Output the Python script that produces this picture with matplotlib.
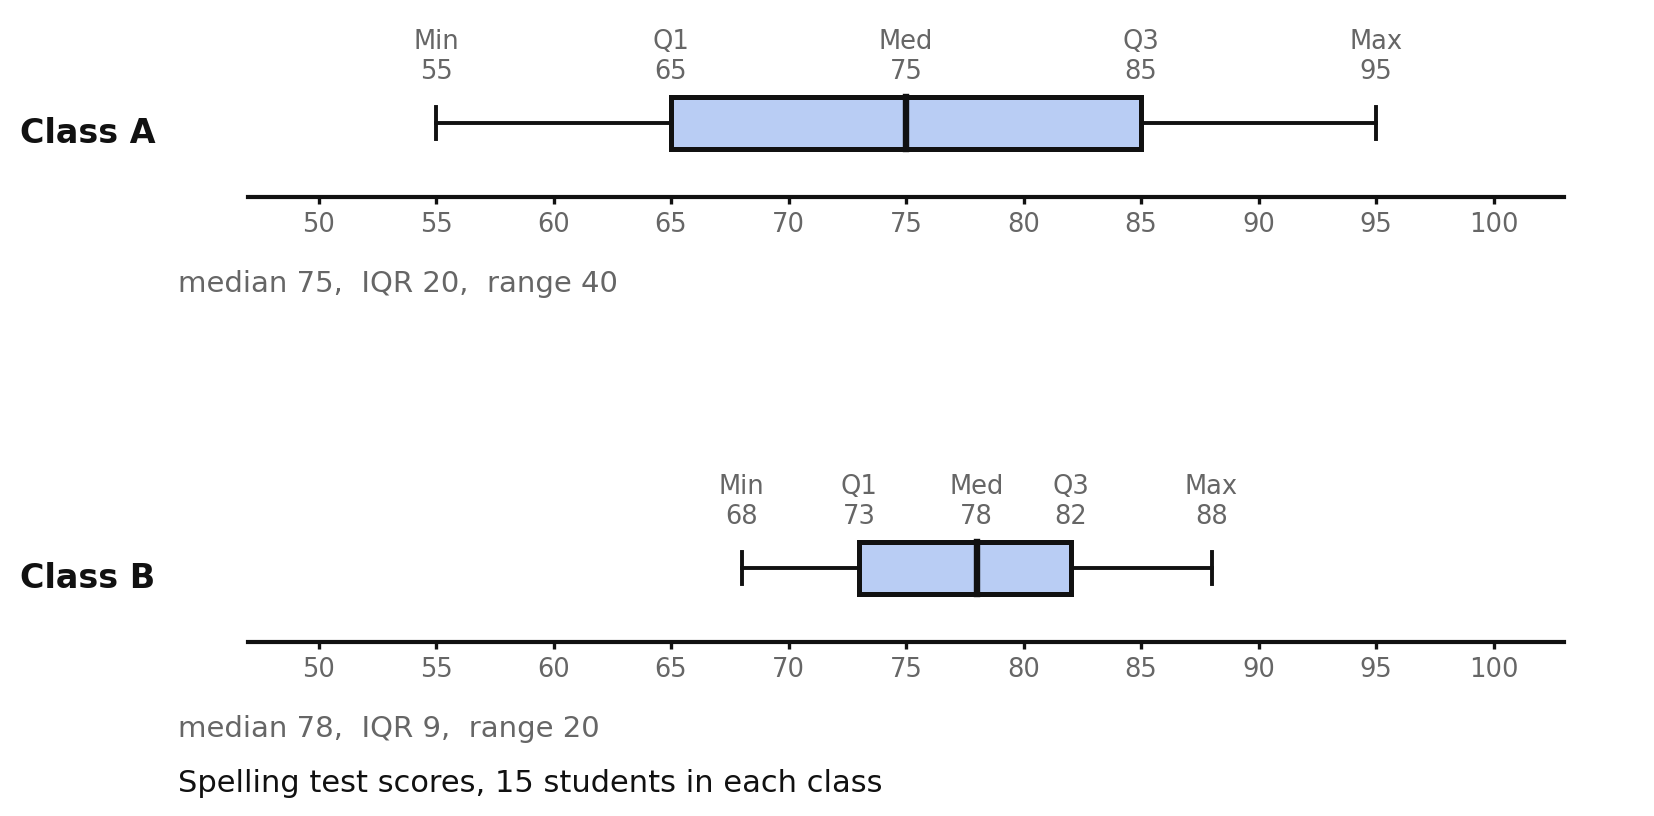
import numpy as np
import matplotlib
matplotlib.use("Agg")
import matplotlib.pyplot as plt

# five-number summaries
classes = ["Class A", "Class B"]
mins = [55, 68]
q1s = [65, 73]
medians = [75, 78]
q3s = [85, 82]
maxs = [95, 88]
stat_names = ["Min", "Q1", "Med", "Q3", "Max"]
ticks = [50, 55, 60, 65, 70, 75, 80, 85, 90, 95, 100]
caption = "Spelling test scores, 15 students in each class"

W, H = 1654, 816
box_fill = "#b9cdf4"
ink = "#111111"
grey = "#666666"

fig = plt.figure(figsize=(W / 100, H / 100), dpi=100)

spine_y = [197, 642]  # pixel rows of the two axis lines
half = 74  # px from axis line to box centre
for i, name in enumerate(classes):
    bottom = 1 - spine_y[i] / H
    ax = fig.add_axes([248 / W, bottom, 1316 / W, 2 * half / H])
    ax.set_xlim(47, 103)
    ax.set_ylim(-1, 1)

    stats = [mins[i], q1s[i], medians[i], q3s[i], maxs[i]]
    bxp = [dict(whislo=mins[i], q1=q1s[i], med=medians[i], q3=q3s[i], whishi=maxs[i], fliers=[])]
    ax.bxp(bxp, positions=[0], orientation="horizontal", widths=0.69, patch_artist=True,
           showfliers=False,
           boxprops=dict(facecolor=box_fill, edgecolor=ink, linewidth=3.6),
           whiskerprops=dict(color=ink, linewidth=2.8),
           capprops=dict(color=ink, linewidth=2.8),
           medianprops=dict(color=ink, linewidth=4.6, solid_capstyle="projecting"),
           capwidths=0.44)

    for lab, v in zip(stat_names, stats):
        ax.annotate(str(v), xy=(v, 0.345), xytext=(0, 18), textcoords="offset pixels",
                    ha="center", va="baseline", fontsize=18.5, color=grey, annotation_clip=False)
        ax.annotate(lab, xy=(v, 0.345), xytext=(0, 48), textcoords="offset pixels",
                    ha="center", va="baseline", fontsize=18.5, color=grey, annotation_clip=False)

    for s in ["top", "right", "left"]:
        ax.spines[s].set_visible(False)
    ax.spines["bottom"].set_linewidth(3)
    ax.spines["bottom"].set_color(ink)
    ax.set_yticks([])
    ax.set_xticks(ticks)
    ax.tick_params(axis="x", length=5, width=2.4, color=ink, labelsize=18.5,
                   labelcolor=grey, pad=6)

    fig.text(20 / W, 1 - (spine_y[i] - 54) / H, name, fontsize=24, fontweight="bold",
             color=ink, ha="left", va="baseline")
    summary = f"median {medians[i]},  IQR {q3s[i] - q1s[i]},  range {maxs[i] - mins[i]}"
    fig.text(178 / W, 1 - (spine_y[i] + 95) / H, summary, fontsize=21, color=grey,
             ha="left", va="baseline")

fig.text(178 / W, 1 - 792 / H, caption, fontsize=22, color=ink, ha="left", va="baseline")

fig.savefig("out.png", dpi=100)
